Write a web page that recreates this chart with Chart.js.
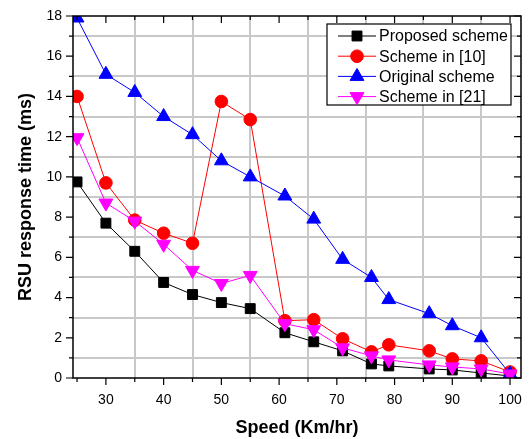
<!DOCTYPE html>
<html>
<head>
<meta charset="utf-8">
<script src="https://cdn.jsdelivr.net/npm/chart.js@4"></script>
<style>
  html, body { margin: 0; padding: 0; background: #fff; }
  #wrap { width: 530px; height: 439px; }
</style>
</head>
<body>
<div id="wrap"><canvas id="chart" width="530" height="439"></canvas></div>
<script>
const speeds = [25, 30, 35, 40, 45, 50, 55, 61, 66, 71, 76, 79, 86, 90, 95, 100];
const proposed = [9.75, 7.7, 6.3, 4.75, 4.15, 3.75, 3.45, 2.25, 1.8, 1.35, 0.7, 0.6, 0.45, 0.4, 0.25, 0.1];
const scheme10 = [14.0, 9.7, 7.85, 7.2, 6.7, 13.75, 12.85, 2.85, 2.9, 1.95, 1.3, 1.65, 1.35, 0.95, 0.85, 0.3];
const original = [17.9, 15.1, 14.2, 13.0, 12.1, 10.8, 10.0, 9.05, 7.9, 5.9, 5.0, 3.9, 3.2, 2.6, 2.0, 0.2];
const scheme21 = [11.95, 8.7, 7.8, 6.65, 5.35, 4.7, 5.1, 2.7, 2.4, 1.5, 1.1, 0.9, 0.65, 0.55, 0.45, 0.2];

const xTicks = [25, 30, 35, 40, 45, 50, 55, 60, 65, 70, 75, 80, 85, 90, 95, 100];
const yTicks = [0, 1, 2, 3, 4, 5, 6, 7, 8, 9, 10, 11, 12, 13, 14, 15, 16, 17, 18];
const xGrid = [35, 45, 55, 65, 75, 85, 95];
const yGrid = [1, 3, 5, 7, 9, 11, 13, 15, 17];

const FONT = "Arial, 'Liberation Sans', sans-serif";

const SERIES = [
  { label: "Proposed scheme", data: proposed, color: "#000000", style: "rect", radius: 7, rotation: 0, order: 4 },
  { label: "Scheme in [10]", data: scheme10, color: "#ff0000", style: "circle", radius: 6.3, rotation: 0, order: 3 },
  { label: "Original scheme", data: original, color: "#0000ff", style: "triangle", radius: 8, rotation: 0, order: 2 },
  { label: "Scheme in [21]", data: scheme21, color: "#ff00ff", style: "triangle", radius: 8, rotation: 180, order: 1 },
];

// light grid on the minor positions, under the data
const gridPlugin = {
  id: "minorGrid",
  beforeDatasetsDraw(chart) {
    const { ctx, chartArea: a, scales } = chart;
    ctx.save();
    ctx.strokeStyle = "#c8c8c8";
    ctx.lineWidth = 2;
    ctx.beginPath();
    xGrid.forEach((v) => {
      const px = Math.round(scales.x.getPixelForValue(v));
      ctx.moveTo(px, a.top); ctx.lineTo(px, a.bottom);
    });
    yGrid.forEach((v) => {
      const py = Math.round(scales.y.getPixelForValue(v));
      ctx.moveTo(a.left, py); ctx.lineTo(a.right, py);
    });
    ctx.stroke();
    ctx.restore();
  },
};

// frame + ticks on all four sides, origin style
const framePlugin = {
  id: "frame",
  afterDatasetsDraw(chart) {
    const { ctx, chartArea: a, scales } = chart;
    ctx.save();
    ctx.strokeStyle = "#000";
    ctx.lineWidth = 1.5;
    ctx.strokeRect(a.left, a.top, a.right - a.left, a.bottom - a.top);
    ctx.lineWidth = 1.2;
    ctx.beginPath();
    xTicks.forEach((v) => {
      const px = scales.x.getPixelForValue(v);
      const len = v % 10 === 0 ? 7 : 4;
      ctx.moveTo(px, a.bottom); ctx.lineTo(px, a.bottom + len);
      ctx.moveTo(px, a.top); ctx.lineTo(px, a.top + len);
    });
    yTicks.forEach((v) => {
      const py = scales.y.getPixelForValue(v);
      const len = v % 2 === 0 ? 7 : 4;
      ctx.moveTo(a.left, py); ctx.lineTo(a.left - len, py);
      ctx.moveTo(a.right, py); ctx.lineTo(a.right - len, py);
    });
    ctx.stroke();
    ctx.restore();
  },
};

// boxed legend drawn inside the plot, line + marker like the original
const legendPlugin = {
  id: "boxLegend",
  afterDraw(chart) {
    const { ctx } = chart;
    const box = { x: 327, y: 24, w: 184, h: 81 };
    ctx.save();
    ctx.fillStyle = "#fff";
    ctx.fillRect(box.x, box.y, box.w, box.h);
    ctx.strokeStyle = "#000";
    ctx.lineWidth = 1.2;
    ctx.strokeRect(box.x, box.y, box.w, box.h);
    ctx.font = "16px " + FONT;
    ctx.textBaseline = "middle";
    SERIES.forEach((s, i) => {
      const y = 36 + i * 20.2;
      ctx.strokeStyle = s.color;
      ctx.lineWidth = 1;
      ctx.beginPath();
      ctx.moveTo(338, y);
      ctx.lineTo(376, y);
      ctx.stroke();
      ctx.fillStyle = s.color;
      Chart.helpers.drawPoint(ctx, {
        pointStyle: s.style, radius: s.radius, rotation: s.rotation, borderWidth: 1,
      }, 357, y);
      ctx.fillStyle = "#000";
      ctx.fillText(s.label, 379, y + 1);
    });
    ctx.restore();
  },
};

new Chart(document.getElementById("chart"), {
  type: "line",
  data: {
    datasets: SERIES.map((s) => ({
      label: s.label,
      data: speeds.map((x, i) => ({ x, y: s.data[i] })),
      borderColor: s.color,
      backgroundColor: s.color,
      borderWidth: 1,
      pointStyle: s.style,
      pointRadius: s.radius,
      pointHoverRadius: s.radius,
      pointRotation: s.rotation,
      pointBackgroundColor: s.color,
      pointBorderColor: s.color,
      pointBorderWidth: 1,
      tension: 0,
      clip: 0,
      order: s.order,
    })),
  },
  options: {
    responsive: false,
    animation: false,
    events: [],
    layout: { padding: { left: 0, right: 8, top: 16, bottom: 0 } },
    plugins: { legend: { display: false }, tooltip: { enabled: false } },
    scales: {
      x: {
        type: "linear",
        min: 24.3,
        max: 101.9,
        afterBuildTicks: (scale) => { scale.ticks = xTicks.map((value) => ({ value })); },
        afterFit: (scale) => {
          scale.height = 61;
          scale.paddingLeft = 0;
          scale.paddingRight = 0;
        },
        ticks: {
          autoSkip: false,
          maxRotation: 0,
          padding: 14,
          color: "#000",
          font: { family: FONT, size: 14 },
          callback: (v) => (v % 10 === 0 ? v : ""),
        },
        grid: { display: false, drawTicks: false },
        border: { display: false },
        title: {
          display: true,
          text: "Speed (Km/hr)",
          color: "#000",
          font: { family: FONT, size: 18, weight: "bold" },
          padding: { top: 2, bottom: 0 },
        },
      },
      y: {
        type: "linear",
        min: 0,
        max: 18,
        afterBuildTicks: (scale) => { scale.ticks = yTicks.map((value) => ({ value })); },
        afterFit: (scale) => {
          scale.width = 73;
          scale.paddingTop = 0;
          scale.paddingBottom = 0;
        },
        ticks: {
          autoSkip: false,
          padding: 11,
          color: "#000",
          font: { family: FONT, size: 14 },
          callback: (v) => (v % 2 === 0 ? v : ""),
        },
        grid: { display: false, drawTicks: false },
        border: { display: false },
        title: {
          display: true,
          text: "RSU response time (ms)",
          color: "#000",
          font: { family: FONT, size: 18, weight: "bold" },
          padding: { top: 15, bottom: 0 },
        },
      },
    },
  },
  plugins: [gridPlugin, framePlugin, legendPlugin],
});
</script>
</body>
</html>
